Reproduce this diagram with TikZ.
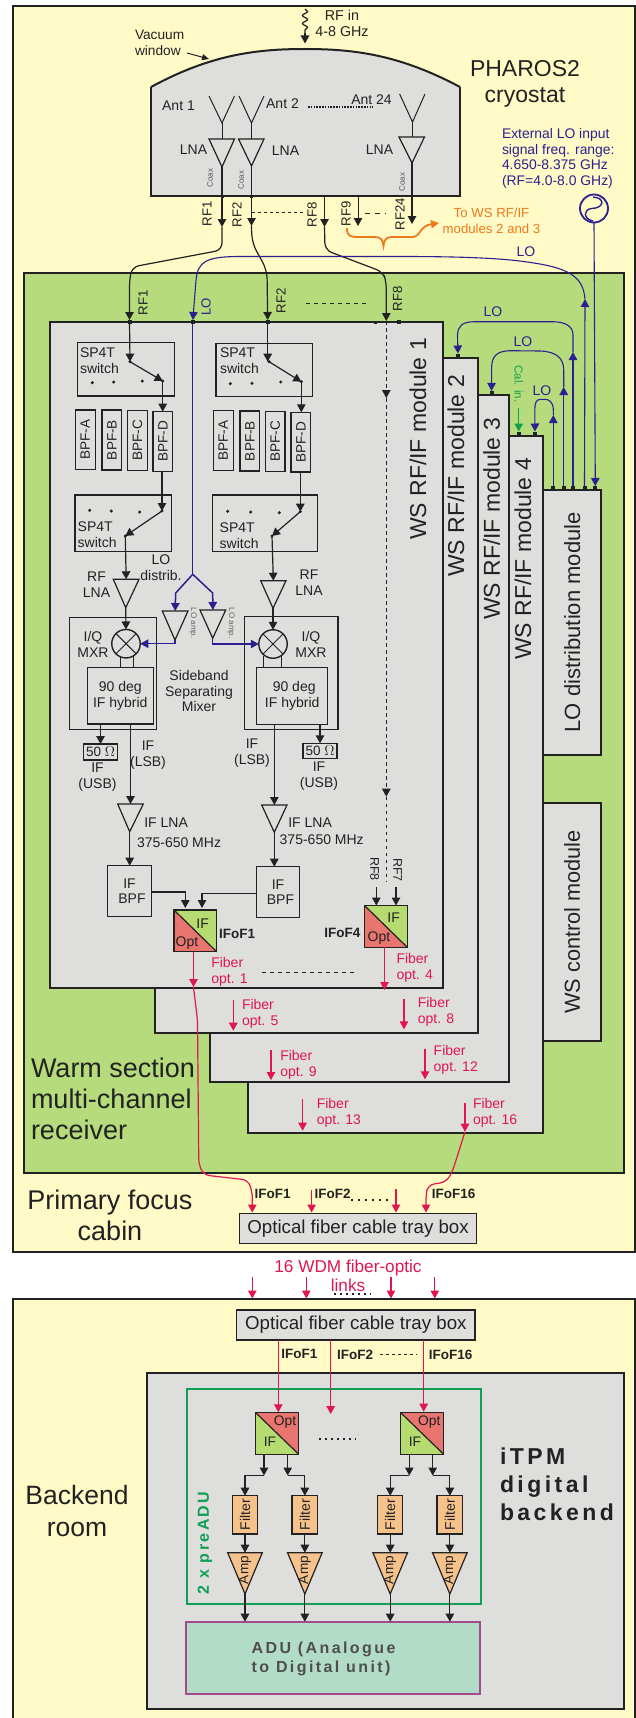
\documentclass[tikz,border=0pt]{standalone}
\usepackage{fontspec}
\setmainfont{Liberation Sans}
\newfontfamily\spc[LetterSpace=15]{Liberation Sans}
\usetikzlibrary{arrows.meta,decorations.pathmorphing}
\definecolor{ink}{HTML}{222222}
\definecolor{panel}{HTML}{FFFAC6}
\definecolor{warm}{HTML}{B6DB7C}
\definecolor{modgray}{HTML}{DEDEDC}
\definecolor{fibre}{HTML}{E0174F}
\definecolor{lored}{HTML}{E87570}
\definecolor{ifgreen}{HTML}{B6DB70}
\definecolor{lob}{HTML}{2C2090}
\definecolor{orng}{HTML}{EE7A1E}
\definecolor{calg}{HTML}{12A04A}
\definecolor{filt}{HTML}{F6C28C}
\definecolor{adug}{HTML}{B3DCC8}
\definecolor{adup}{HTML}{A04C8C}
\definecolor{pregreen}{HTML}{0F9F55}
\tikzset{
  lbl/.style={inner sep=0pt,outer sep=0pt,text=ink,align=center},
  rect/.style={draw=ink,line width=1.4pt,inner sep=0pt,outer sep=0pt,align=center,text=ink},
  modbox/.style={rect,fill=modgray,line width=1.8pt},
  wire/.style={draw=ink,line width=1.2pt},
  arr/.style={-{Triangle[length=8pt,width=8.5pt]}},
  blw/.style={draw=lob,line width=1.1pt},
  fib/.style={draw=fibre,line width=1.2pt},
  port/.style={fill=ink,draw=none,minimum size=4pt,inner sep=0pt,outer sep=0pt},
  dotl/.style={draw=ink,line width=1pt,dash pattern=on 3pt off 3pt},
  redtxt/.style={text=fibre},
  bluetxt/.style={text=lob},
  filterbox/.style={rect,fill=filt,font=\fontsize{14}{16}\selectfont},
  bpfbox/.style={rect,font=\fontsize{13.6}{15}\selectfont},
  hybox/.style={rect,font=\fontsize{14}{16}\selectfont},
  ifbox/.style={rect,font=\fontsize{14}{15}\selectfont},
  ampt/.style={draw=ink,line width=1.2pt},
}
\newcounter{tn}
% \tx[opts]{x}{y}{size}{leading}{text}
\newcommand{\tx}[6][]{\stepcounter{tn}\node[lbl,font={\fontsize{#4}{#5}\selectfont},#1] (t\arabic{tn}) at (#2,#3) {#6};}
% \bx[opts]{name}{x1}{y1}{x2}{y2}{text}
\newcommand{\bx}[7][rect]{\pgfmathsetmacro\bw{#5-(#3)}\pgfmathsetmacro\bh{#6-(#4)}\node[#1,minimum width=\bw pt,minimum height=\bh pt] (#2) at ({(#3+#5)/2},{(#4+#6)/2}) {#7};}
% \tri[opts]{name}{xl}{xr}{ytop}{xa}{ya}
\newcommand{\tri}[7][ampt]{\path[#1] ({#3},#5) -- ({#4},#5) -- ({#6},#7) -- cycle; \coordinate (#2-t) at ({((#3)+(#4))/2},#5); \coordinate (#2-a) at ({#6},#7);}
\newcommand{\prt}[4][]{\node[port,#1] (#2) at (#3,#4) {};}
\newcommand{\cn}[3]{\coordinate (#1) at (#2,#3);}
% \fibr{name}{x}{y0}{y1}{tx}{ty}{n}
\newcommand{\fibr}[7]{\coordinate (#1a) at (#2,#3); \coordinate (#1b) at (#2,#4); \draw[fib,arr] (#1a) -- (#1b); \tx[anchor=west,align=left,redtxt]{#5}{#6}{14}{16}{Fiber\\opt. #7}}
% \conv{name}{x1}{y1}{x2}{y2}{upper-right colour}{lower-left colour}
\newcommand{\conv}[7]{\fill[#6] (#2,#3) -- (#4,#3) -- (#4,#5) -- cycle; \fill[#7] (#2,#3) -- (#2,#5) -- (#4,#5) -- cycle; \bx{#1}{#2}{#3}{#4}{#5}{} \draw[ink,line width=1.2pt] (#1.north west) -- (#1.south east);}
\begin{document}
\begin{tikzpicture}[x=1pt,y=-1pt]
\useasboundingbox (0,0) rectangle (636,1718);
% ---------- panels
\path[fill=panel,draw=ink,line width=2pt] (13,6) rectangle (635,1252);
\path[fill=panel,draw=ink,line width=2pt] (13,1730) -- (13,1299) -- (635,1299) -- (635,1730) -- cycle;
% ---------- cryostat
\path[fill=modgray] (151,196) -- (151,87) .. controls (210,55) and (255,49) .. (305,49) .. controls (355,49) and (400,55) .. (460,87) -- (460,196) -- cycle;
\draw[ink,line width=1.5pt] (151,87) -- (151,196) -- (460,196) -- (460,87);
\draw[ink,line width=2pt] (151,87) .. controls (210,55) and (255,49) .. (305,49) .. controls (355,49) and (400,55) .. (460,87);
\tx[anchor=west,align=left]{135}{43}{13.7}{16}{Vacuum\\window}
\cn{vw1}{187}{53}\cn{vw2}{209}{59}
\draw[wire,line width=1pt,-{Triangle[length=7pt,width=6pt]}] (vw1) -- (vw2);
\tx{342}{23}{14.3}{16}{RF in\\4-8 GHz}
\cn{rfs}{305}{9}\cn{rfm}{305}{33}\cn{rfe}{305}{43.5}
\draw[wire,decorate,decoration={snake,amplitude=2.6pt,segment length=8pt}] (rfs) -- (rfm);
\draw[wire,arr] (rfm) -- (rfe);
\tx{525}{84}{23}{26}{PHAROS2\\cryostat}
% antennas
\foreach \n/\a/\b/\c/\ya/\yb/\p/\q/\r/\yt/\ta in {1/209/234.5/222/96/123/209/234.5/222/139/167,2/239/264/251.5/96/123/238.5/264/251.5/139/166,3/399.6/425/412.5/94/122/399/424.5/412/137/163}{
  \coordinate (ant\n-a) at (\c,\yb);
  \draw[ink,line width=1pt] (\a,\ya) -- (ant\n-a) -- (\b,\ya);
  \tri[ampt]{cl\n}{\p}{\q}{\yt}{\r}{\ta}
  \draw[ink,line width=1pt] (ant\n-a) -- (\c,\yt);
}
\tx{178.5}{106}{14}{16}{Ant 1}
\tx{282.5}{104}{14}{16}{Ant 2}
\tx{371.5}{100}{14}{16}{Ant 24}
\cn{ad1}{308}{107}\cn{ad2}{373}{107}
\draw[ink,line width=1.2pt,dash pattern=on 1.6pt off 1.2pt] (ad1) -- (ad2);
\tx{193.5}{150}{14}{16}{LNA}
\tx{285.5}{151}{14}{16}{LNA}
\tx{379.5}{150}{14}{16}{LNA}
\tx[rotate=90,text=ink!75]{210}{178}{8}{9}{Coax}
\tx[rotate=90,text=ink!75]{241}{180}{8}{9}{Coax}
\tx[rotate=90,text=ink!75]{402}{182}{8}{9}{Coax}
% cryostat outputs
\prt[minimum size=3pt]{cp1}{222}{196}\prt[minimum size=3pt]{cp2}{251.5}{196}
\draw[wire] (cl1-a) -- (cp1); \draw[wire] (cl2-a) -- (cp2);
\cn{cp8}{324.5}{196}\cn{cp9}{358}{196}\cn{cp24}{412}{196}
\draw[wire] (cl3-a) -- (cp24);
\cn{rt1}{222}{227}\cn{rt2}{251.5}{226}\cn{rt8}{324.5}{227}\cn{rt9}{358}{226}\cn{rt24}{412}{224}
\draw[wire,arr] (cp1) -- (rt1); \draw[wire,arr] (cp2) -- (rt2); \draw[wire,arr] (cp8) -- (rt8);
\draw[wire,arr,line width=1pt] (cp9) -- (rt9); \draw[wire,arr] (cp24) -- (rt24);
\tx[rotate=90]{207}{214}{13.2}{15}{RF1}
\tx[rotate=90]{237}{215}{13.2}{15}{RF2}
\tx[rotate=90]{312}{215}{13.2}{15}{RF8}
\tx[rotate=90]{346}{214}{13.2}{15}{RF9}
\tx[rotate=90]{400}{214}{13.2}{15}{RF24}
\cn{d1a}{252}{212}\cn{d1b}{304}{212}\draw[dotl] (d1a) -- (d1b);
\cn{d2a}{365}{213}\cn{d2b}{386}{213}\draw[dotl,dash pattern=on 5pt off 5pt] (d2a) -- (d2b);
\cn{bs}{347}{228}\cn{bt}{439}{223}
\draw[orng,line width=1.8pt,-{Triangle[length=8pt,width=8pt]}] (bs) .. controls (347,236) and (350,237) .. (358,237) -- (375,237) .. controls (381,237) and (383,240) .. (383.5,246) .. controls (384,240) and (386,237) .. (392,237) -- (412,237) .. controls (421,237) and (419,226) .. (bt);
\tx[text=orng]{491.5}{221}{13.2}{16}{To WS RF/IF\\modules 2 and 3}
\tx[anchor=west,align=left,bluetxt]{502}{158.5}{13.9}{15.7}{External LO input\\signal freq. range:\\4.650-8.375 GHz\\(RF=4.0-8.0 GHz)}
\node[circle,draw=lob,line width=1.8pt,minimum size=28pt,inner sep=0pt,outer sep=0pt] (src) at (594,208.5) {};
\draw[lob,line width=1.4pt] (593,221) .. controls (583,219) and (583,209) .. (592,208.5) .. controls (604,208) and (606,198) .. (593,197);
% ---------- warm section
\path[fill=warm,draw=ink,line width=1.8pt] (24,273) rectangle (624,1173);
\tx[anchor=west,align=left]{31}{1099}{27}{31}{Warm section\\multi-channel\\receiver}
\tx{110}{1215.5}{27}{31}{Primary focus\\cabin}
% modules back to front
\bx[modbox]{lodm}{543}{489.7}{601.3}{755}{\rotatebox{90}{\fontsize{22}{24}\selectfont LO distribution module}}
\bx[modbox]{wscm}{543}{803.3}{601.3}{1040.7}{\rotatebox{90}{\fontsize{21.7}{24}\selectfont WS control module}}
\bx[modbox]{mod4}{248.3}{435.7}{543.3}{1132.7}{}
\bx[modbox]{mod3}{209.7}{395}{508.7}{1082.3}{}
\bx[modbox]{mod2}{155}{357.7}{477.7}{1032.7}{}
\bx[modbox]{mod1}{50}{322}{443}{988}{}
\tx[rotate=90]{418}{439}{23}{25}{WS RF/IF module 1}
\tx[rotate=90]{456}{476}{23}{25}{WS RF/IF module 2}
\tx[rotate=90]{491.7}{519}{23}{25}{WS RF/IF module 3}
\tx[rotate=90]{523}{559}{23}{25}{WS RF/IF module 4}
% ports on module 1
\prt{pr1}{129.5}{322}\prt{plo}{192.7}{322}\prt{pr2}{267.7}{322}\prt[minimum size=3pt]{pq1}{375.7}{322}\prt{pq2}{399}{322}
\cn{pr8}{386.3}{321}
% RF curves
\draw[wire,rounded corners=7pt,arr] (rt1) -- (222,250) -- (132,267) -- (129.5,280) -- (pr1);
\draw[wire,rounded corners=9pt,arr] (rt2) -- (252,243) -- (267,270) -- (pr2);
\draw[wire,rounded corners=7pt,arr] (rt8) -- (325,250) -- (383,272) -- (386.3,282) -- (pr8);
\tx[rotate=90]{143}{303}{13.2}{15}{RF1}
\tx[rotate=90]{281}{301}{13.2}{15}{RF2}
\tx[rotate=90]{397.5}{299}{13.2}{15}{RF8}
\tx[rotate=90,bluetxt]{206}{307}{13.2}{15}{LO}
\cn{d3a}{306}{303}\cn{d3b}{368}{303}\draw[dotl,dash pattern=on 4pt off 4pt] (d3a) -- (d3b);
% LO distribution ports & loops
\prt{lp1}{553.3}{488}\prt{lp2}{563.7}{488}\prt{lp3}{573}{488}\prt{lp4}{584.5}{488}\prt{lp5}{595.3}{488}
\prt{m2p}{458}{355.5}\prt{m3p}{491.5}{393}\prt{m4p}{535}{433.5}\prt{m4c}{518.7}{433.5}
\draw[blw,arr] (src.south) -- (lp5.north);
\cn{lo-a}{585}{299}
\draw[blw,arr] (lp4) -- (lo-a);
\draw[blw,arr] (lo-a) .. controls (583,278) and (572,268) .. (527,262) .. controls (500,258) and (460,256.5) .. (400,256.5) -- (240,256.5) .. controls (205,256.5) and (198,262) .. (196,280) -- (plo);
\tx[bluetxt]{526}{252}{14}{16}{LO}
\cn{l1a}{573}{352}\cn{l2a}{563.7}{387}\cn{l3a}{553.3}{415}
\draw[blw,arr] (lp3) -- (l1a);
\draw[blw,arr] (l1a) -- (573,335) .. controls (573,326) and (565,321.7) .. (552,321.7) -- (475,321.7) .. controls (462,321.7) and (458,326) .. (457.5,335) -- (m2p);
\draw[blw,arr] (lp2) -- (l2a);
\draw[blw,arr] (l2a) -- (563.7,370) .. controls (563.7,358) and (556,351.5) .. (540,351) -- (510,350.7) .. controls (497,351) and (491.7,356) .. (491.6,368) -- (m3p);
\draw[blw,arr] (lp1) -- (l3a);
\draw[blw,arr] (l3a) -- (553.3,410) .. controls (553.3,402) and (549,399.3) .. (545,399.3) -- (541,399.3) .. controls (536,399.3) and (534.8,403) .. (534.8,410) -- (m4p);
\tx[bluetxt]{493}{311.7}{14}{16}{LO}
\tx[bluetxt]{523}{342}{14}{16}{LO}
\tx[bluetxt]{542}{390.7}{14}{16}{LO}
\tx[rotate=-90,text=calg]{518.7}{384}{11.5}{13}{Cal. in.}
\cn{calt}{518.7}{408}
\draw[draw=calg,line width=1.2pt,arr] (calt) -- (m4c);
% ---- column 1
\bx{sw1}{77.7}{342.7}{174.3}{396}{}
\bx{sw2}{75}{495}{171.7}{551.7}{}
\tx[anchor=west,align=left]{80}{361}{14}{16}{SP4T\\switch}
\tx[anchor=west,align=left]{77.7}{534.3}{14}{16}{SP4T\\switch}
\bx[bpfbox]{a1}{75.3}{410}{95.3}{469.3}{\rotatebox{90}{BPF-A}}
\bx[bpfbox]{b1}{102}{410}{121.7}{470}{\rotatebox{90}{BPF-B}}
\bx[bpfbox]{c1}{127.7}{410.5}{147.3}{470.5}{\rotatebox{90}{BPF-C}}
\bx[bpfbox]{d1}{153}{411.7}{172.7}{471.3}{\rotatebox{90}{BPF-D}}
\cn{s1p}{130}{361.7}\cn{s1c}{162.7}{381}\cn{s2p}{162}{511}\cn{s2c}{125.3}{536}
\draw[wire,arr] (pr1) -- (s1p);
\draw[wire,arr] (s1p) -- (s1c);
\draw[wire,arr] (s1c) -- (d1.north -| s1c);
\draw[wire,arr] (d1.south -| s2p) -- (s2p);
\draw[wire,arr] (s2p) -- (s2c);
\foreach \p in {s1p,s1c,s2p,s2c}{\fill[ink] (\p) circle (1.7pt);}
\foreach \x/\y in {92.3/382.7,113.7/382,142.3/381,89.7/510.3,111.3/511,139.7/512}{\fill[ink] (\x,\y) circle (1.7pt);}
\tri{lna1}{113.3}{139}{579.3}{125.7}{607.7}
\draw[wire,arr] (s2c) -- (lna1-t);
\tx{96.5}{585}{14}{16}{RF\\LNA}
\bx{mx1}{69.3}{617.3}{156.7}{729.3}{}
\node[circle,draw=ink,line width=1.4pt,minimum size=28.5pt,inner sep=0pt,outer sep=0pt,fill=modgray] (mix1) at (126,643.7) {};
\draw[ink,line width=1pt] (mix1.north west) -- (mix1.south east) (mix1.north east) -- (mix1.south west);
\draw[wire,arr] (lna1-a) -- (mix1.north);
\tx{93}{644.5}{14}{16}{I/Q\\MXR}
\bx[hybox]{hy1}{87.3}{667.3}{153.3}{724}{90 deg\\IF hybrid}
\cn{h1a}{120.7}{656}\cn{h1b}{133.3}{656}
\draw[wire] (h1a) -- (hy1.north -| h1a) (h1b) -- (hy1.north -| h1b);
\bx{ohm1}{83.3}{744}{117.7}{760}{\fontsize{13.5}{15}\selectfont 50 $\Omega$}
\draw[wire,arr] (hy1.south -| ohm1) -- (ohm1.north);
\tx{97.5}{777.5}{14}{16}{IF\\(USB)}
\tri{ifl1}{117.7}{143.3}{804}{129.7}{831.7}
\draw[wire,arr] (hy1.south -| ifl1-t) -- (ifl1-t);
\tx{148}{755.5}{14}{16}{IF\\(LSB)}
\tx[anchor=west,align=left]{137}{832.3}{14}{20}{\hspace*{7.3pt}IF LNA\\375-650 MHz}
\bx[ifbox]{bpf1}{107.7}{865.7}{151.3}{916.3}{IF\\\hspace*{5pt}BPF}
\draw[wire,arr] (ifl1-a) -- (bpf1.north -| ifl1-a);
% ---- column 2
\bx{sw3}{216}{343.3}{312.7}{396.7}{}
\bx{sw4}{212.3}{495}{317.7}{551.7}{}
\tx[anchor=west,align=left]{220}{361}{14}{16}{SP4T\\switch}
\tx[anchor=west,align=left]{219.7}{535.3}{14}{16}{SP4T\\switch}
\bx[bpfbox]{a2}{213.3}{410.7}{233.3}{470.7}{\rotatebox{90}{BPF-A}}
\bx[bpfbox]{b2}{240}{411}{259.7}{471}{\rotatebox{90}{BPF-B}}
\bx[bpfbox]{c2}{265.3}{411.5}{285}{471.5}{\rotatebox{90}{BPF-C}}
\bx[bpfbox]{d2}{291}{412.3}{310.7}{472}{\rotatebox{90}{BPF-D}}
\cn{s3p}{269}{361.7}\cn{s3c}{301.3}{381.7}\cn{s4p}{300.3}{511.7}\cn{s4c}{272}{536}
\draw[wire,arr] (pr2) -- (pr2 |- s3p);
\draw[wire,arr] (s3p) -- (s3c);
\draw[wire,arr] (s3c) -- (d2.north -| s3c);
\draw[wire,arr] (d2.south -| s4p) -- (s4p);
\draw[wire,arr] (s4p) -- (s4c);
\foreach \p in {s3p,s3c,s4p,s4c}{\fill[ink] (\p) circle (1.7pt);}
\foreach \x/\y in {230.3/383.7,252/383.3,280.7/382,227.7/511.3,250.7/512,279.3/512.7}{\fill[ink] (\x,\y) circle (1.7pt);}
\tri{lna2}{260.7}{286}{580.7}{273}{608.3}
\draw[wire,arr] (s4c) -- (lna2-t);
\tx{309}{583}{14}{16}{RF\\LNA}
\bx{mx2}{244.7}{616.7}{338}{729.3}{}
\node[circle,draw=ink,line width=1.4pt,minimum size=28.5pt,inner sep=0pt,outer sep=0pt,fill=modgray] (mix2) at (273,644) {};
\draw[ink,line width=1pt] (mix2.north west) -- (mix2.south east) (mix2.north east) -- (mix2.south west);
\draw[wire,arr] (lna2-a) -- (mix2.north);
\tx{311}{644.7}{14}{16}{I/Q\\MXR}
\bx[hybox]{hy2}{256.7}{667.3}{327.7}{724.3}{\hspace*{4pt}90 deg\\IF hybrid}
\cn{h2a}{263.7}{656}\cn{h2b}{281.7}{656}
\draw[wire] (h2a) -- (hy2.north -| h2a) (h2b) -- (hy2.north -| h2b);
\bx{ohm2}{303}{743.3}{337}{758.7}{\fontsize{13.5}{15}\selectfont 50 $\Omega$}
\draw[wire,arr] (hy2.south -| ohm2) -- (ohm2.north);
\tx{319}{776}{14}{16}{IF\\(USB)}
\tri{ifl2}{261.7}{287}{805}{274.3}{832.3}
\draw[wire,arr] (hy2.south -| ifl2-t) -- (ifl2-t);
\tx{252}{752.7}{14}{16}{IF\\(LSB)}
\tx[anchor=west,align=left]{279.7}{831.5}{14}{17}{\hspace*{8.6pt}IF LNA\\375-650 MHz}
\bx[ifbox]{bpf2}{256.7}{866.7}{299.3}{917.3}{IF\\\hspace*{5pt}BPF}
\draw[wire,arr] (ifl2-a) -- (bpf2.north -| ifl2-a);
% ---- LO distribution in module 1
\cn{loj}{192.7}{574.3}
\draw[blw,line width=1.2pt] (plo) -- (loj);
\tri{la1}{162.3}{188}{611}{175}{640}
\tri{la2}{200}{225.7}{610}{212.7}{638.3}
\draw[blw,line width=1.5pt,arr] (loj) -- (175.7,593) -- (la1-t);
\draw[blw,line width=1.5pt,arr] (loj) -- (212.7,593) -- (la2-t);
\draw[blw,line width=1.2pt,arr] (la1-a) |- (mix1.east);
\draw[blw,line width=1.2pt,arr] (la2-a) |- (mix2.west);
\tx[rotate=-90,text=ink!70]{193}{623}{8}{9}{LO amp.}
\tx[rotate=-90,text=ink!70]{231}{623}{8}{9}{LO amp.}
\tx{161}{567.5}{14}{16}{LO\\distrib.}
\tx{199}{691}{14}{15.8}{Sideband\\Separating\\Mixer}
% ---- IFoF1, IFoF4
\conv{co1}{174}{910}{216.7}{951.7}{ifgreen}{lored}
\conv{co4}{364.7}{905.7}{407.3}{947.3}{ifgreen}{lored}
\cn{j1}{185.3}{908}\cn{j2}{202}{908}\cn{jy1}{0}{892}\cn{jy2}{0}{893.3}
\draw[wire,line width=1.1pt,arr] (bpf1.east |- jy1) -| (j1);
\draw[wire,line width=1.1pt,arr] (bpf2.west |- jy2) -| (j2);
\tx{202.7}{923.3}{14}{16}{IF}
\tx{187}{943}{14}{16}{Opt}
\tx{393.7}{917.7}{14}{16}{IF}
\tx{379}{938.3}{14}{16}{Opt}
\tx{237}{934}{13.5}{15}{\bfseries IFoF1}
\tx{342.3}{933.3}{13.5}{15}{\bfseries IFoF4}
\tx[rotate=-90]{374.7}{869}{12.5}{14}{RF8}
\tx[rotate=-90]{397.7}{870}{12.5}{14}{RF7}
\cn{r8a}{376.3}{886.7}\cn{r8b}{376.3}{905.5}\cn{r7a}{396}{886.7}\cn{r7b}{396}{905.5}
\draw[wire,arr] (r8a) -- (r8b); \draw[wire,arr] (r7a) -- (r7b);
\cn{dd1}{386.3}{398}\cn{dd2}{386.3}{796.7}\cn{dd3}{386.3}{881}
\draw[dotl,line width=1pt,dash pattern=on 3.5pt off 3.5pt,arr] (pr8) -- (dd1);
\draw[dotl,line width=1pt,dash pattern=on 3.5pt off 3.5pt,arr] (dd1) -- (dd2);
\draw[dotl,line width=1pt,dash pattern=on 3.5pt off 3.5pt] (dd2) -- (dd3);
% ---- fibres
\fibr{f1}{193.5}{951.7}{987}{211.3}{972.3}{1}
\fibr{f4}{384.5}{947.3}{990}{396.5}{968.3}{4}
\cn{d4a}{262}{972.7}\cn{d4b}{357}{972.7}\draw[dotl,dash pattern=on 4pt off 4pt] (d4a) -- (d4b);
\fibr{f5}{233.3}{1000}{1030.7}{242}{1013.8}{5}
\fibr{f8}{404}{999}{1029.3}{417.8}{1012.3}{8}
\fibr{f9}{271}{1050}{1080}{280.3}{1064.7}{9}
\fibr{f12}{425}{1049}{1079.3}{433.7}{1060.2}{12}
\fibr{f13}{302.6}{1099.3}{1130.7}{316.8}{1113}{13}
\fibr{f16}{465}{1102.7}{1131.7}{473}{1113}{16}
% ---- tray box, top
\bx[rect,fill=modgray,line width=1.4pt]{tray1}{239.4}{1213.3}{476.7}{1243.3}{\fontsize{18.7}{20}\selectfont Optical fiber cable tray box}
\cn{ta1}{252.3}{1212.5}\cn{ta2}{311.6}{1212.5}\cn{ta3}{396}{1212.5}\cn{ta4}{426}{1212.5}
\draw[fib,arr,rounded corners=6pt] (f1b) -- (197.5,1020) -- (198.8,1165) -- (204,1175) -- (248,1180) -- (252.3,1192) -- (ta1);
\draw[fib,arr,rounded corners=6pt] (f16b) -- (452.3,1172) -- (446,1182) -- (428,1185) -- (426,1195) -- (ta4);
\cn{tb2}{311.6}{1190}\cn{tb3}{396}{1189}
\draw[fib,arr] (tb2) -- (ta2); \draw[fib,arr] (tb3) -- (ta3);
\tx{272.6}{1194.3}{13.5}{15}{\bfseries IFoF1}
\tx{332.7}{1194.3}{13.5}{15}{\bfseries IFoF2}
\tx{453.5}{1194.3}{13.5}{15}{\bfseries IFoF16}
\cn{d5a}{351}{1200}\cn{d5b}{388}{1200}\draw[dotl,line width=1.4pt,dash pattern=on 2pt off 5pt] (d5a) -- (d5b);
% ---- link
\tx[redtxt]{348}{1276}{17.2}{19}{16 WDM fiber-optic\\links}
\foreach \n/\x in {1/252.3,2/306.3,3/391,4/434.8}{
  \coordinate (wl\n a) at (\x,1277); \coordinate (wl\n b) at (\x,1298.5);
  \draw[fib,arr] (wl\n a) -- (wl\n b);
}
\cn{d6a}{334}{1294}\cn{d6b}{371}{1294}\draw[dotl,line width=1.4pt,dash pattern=on 2pt off 4pt] (d6a) -- (d6b);
% ---------- backend
\tx{77}{1511}{26.5}{32}{Backend\\room}
\bx[rect,fill=modgray,line width=1.4pt]{tray2}{236.7}{1310}{475}{1340}{\fontsize{18.7}{20}\selectfont Optical fiber cable tray box}
\bx[rect,fill=modgray,line width=2.2pt]{itpm}{147.3}{1373.3}{624}{1709.3}{}
\bx[rect,draw=pregreen,line width=1.8pt]{preadu}{187.3}{1389.3}{481}{1604}{}
\bx[rect,fill=adug,draw=adup,line width=1.6pt]{adu}{185.7}{1621.7}{480}{1694}{}
\tx[anchor=west,align=left,text=ink!80,font={\fontsize{16}{19.4}\selectfont\spc\bfseries}]{251.7}{1659}{16}{19.4}{ADU (Analogue\\to Digital unit)}
\tx[anchor=west,align=left,font={\fontsize{23}{28.2}\selectfont\spc\bfseries}]{500}{1484}{23}{28.2}{iTPM\\digital\\backend}
\tx[rotate=90,text=pregreen,font={\fontsize{16}{18}\selectfont\spc\bfseries}]{205}{1543}{16}{18}{2 x preADU}
\conv{bc1}{255.7}{1412.7}{298.7}{1454.3}{lored}{ifgreen}
\conv{bc2}{400.7}{1412.7}{443.7}{1454.3}{lored}{ifgreen}
\foreach \c/\xo/\xi in {bc1/285/270,bc2/429.3/415}{
  \tx{\xo}{1421.7}{13.8}{15}{Opt}
  \tx{\xi}{1441.7}{13.8}{15}{IF}
}
\cn{bf1}{278.3}{1412.3}\cn{bf2}{330.7}{1414}\cn{bf3}{423.7}{1411.7}
\draw[fib,arr] (tray2.south -| bf1) -- (bf1);
\draw[fib,arr] (tray2.south -| bf2) -- (bf2);
\draw[fib,arr] (tray2.south -| bf3) -- (bf3);
\tx{299.3}{1354}{13.5}{15}{\bfseries IFoF1}
\tx{355}{1355}{13.5}{15}{\bfseries IFoF2}
\tx{450.7}{1355}{13.5}{15}{\bfseries IFoF16}
\cn{d7a}{380}{1354}\cn{d7b}{417}{1354}\draw[dotl,dash pattern=on 3pt off 3pt] (d7a) -- (d7b);
\cn{d8a}{319}{1439}\cn{d8b}{356}{1439}\draw[dotl,line width=1.3pt,dash pattern=on 2pt off 4pt] (d8a) -- (d8b);
\foreach \n/\xa/\xb/\lf in {1/232.3/257.7/264,2/292/317.7/287.7,3/377.7/402.7/409.3,4/437/462.7/432.7}{
  \pgfmathsetmacro\xc{(\xa+\xb)/2}
  \bx[filterbox]{fl\n}{\xa}{1495.7}{\xb}{1534}{\rotatebox{90}{Filter}}
  \coordinate (br\n a) at (\lf,1454.3); \coordinate (br\n b) at (\lf,1475.5);
  \draw[wire,arr] (br\n a) -- (br\n b);
  \draw[wire,line width=1.1pt,arr] (br\n b) -- (\xc,1475.5) -- (fl\n.north);
  \tri[ampt,fill=filt]{am\n}{\xc-17.3}{\xc+17.3}{1552.7}{\xc}{1594}
  \tx[rotate=90]{\xc}{1570}{13.6}{15}{Amp}
  \draw[wire,arr] (fl\n.south) -- (am\n-t);
  \draw[wire,arr] (am\n-a) -- (adu.north -| am\n-a);
}
\end{tikzpicture}
\end{document}
